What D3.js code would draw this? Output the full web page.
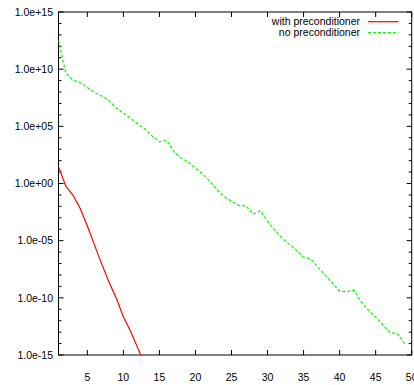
<!DOCTYPE html>
<html>
<head>
<meta charset="utf-8">
<script src="https://cdn.jsdelivr.net/npm/d3@7"></script>
<style>
  body { margin: 0; background: #fff; overflow: hidden; }
  svg { display: block; }
  text { font-family: "Liberation Sans", Arial, sans-serif; font-size: 10.5px; fill: #000; }
</style>
</head>
<body>
<div id="chart"></div>
<script>
// residual norm per iteration
const iterPrec = [1, 2, 3, 4, 5, 6, 7, 8, 9, 10, 11, 12, 13];
const withPrec = [3.0e1, 6.0e-1, 9.8e-2, 6.8e-3, 1.9e-4, 4.1e-6, 8.9e-8, 2.4e-9,
                  9.5e-11, 2.2e-12, 1.2e-13, 4.0e-15, 1.2e-16];

const iterNo = [1, 2, 3, 4, 5, 6, 7, 8, 9, 10, 11, 12, 13, 14, 15, 16, 17, 18, 19, 20,
                21, 22, 23, 24, 25, 26, 27, 28, 29, 30, 31, 32, 33, 34, 35, 36, 37, 38, 39, 40,
                41, 42, 43, 44, 45, 46, 47, 48, 49];
const noPrec = [3.5e12, 4.6e9, 1.1e9, 6.8e8, 2.5e8, 9.1e7, 4.5e7, 1.8e7, 4.0e6, 1.4e6,
                4.8e5, 1.6e5, 5.8e4, 1.4e4, 4.5e3, 6.3e3, 6.0e2, 1.7e2, 7.6e1, 2.2e1,
                6.8e0, 1.6e0, 2.7e-1, 6.9e-2, 2.9e-2, 1.2e-2, 1.1e-2, 2.1e-3, 4.2e-3, 5.1e-4,
                8.5e-5, 1.7e-5, 5.0e-6, 1.5e-6, 3.7e-7, 2.5e-7, 4.9e-8, 9.8e-9, 1.9e-9, 3.9e-10,
                3.4e-10, 4.8e-10, 4.3e-11, 8.5e-12, 2.1e-12, 4.2e-13, 8.7e-14, 7.8e-14, 1.0e-14];

const xTicks = [5, 10, 15, 20, 25, 30, 35, 40, 45, 50];
const yTicks = [1e15, 1e10, 1e5, 1e0, 1e-5, 1e-10, 1e-15];
const yMinor = d3.range(-15, 16).map(e => Math.pow(10, e));
const legendLabels = ["with preconditioner", "no preconditioner"];

const width = 414, height = 385;
const plot = {left: 58.5, top: 12, right: 411.7, bottom: 355};

const svg = d3.select("#chart").append("svg")
    .attr("width", width)
    .attr("height", height);

const x = d3.scaleLinear().domain([1, 50]).range([plot.left, plot.right]);
const y = d3.scaleLog().domain([1e-15, 1e15]).range([plot.bottom, plot.top]);

// clip so lines stay inside the frame
svg.append("clipPath").attr("id", "clip")
  .append("rect")
    .attr("x", plot.left).attr("y", plot.top)
    .attr("width", plot.right - plot.left)
    .attr("height", plot.bottom - plot.top);

const fmt = v => {
    const e = Math.round(Math.log10(v));
    return "1.0e" + (e < 0 ? "-" : "+") + String(Math.abs(e)).padStart(2, "0");
};

// ticks - gnuplot style, inward on all four sides
const tickG = svg.append("g").attr("stroke", "#000").attr("stroke-width", 1);

xTicks.forEach(t => {
    tickG.append("line").attr("x1", x(t)).attr("x2", x(t)).attr("y1", plot.bottom).attr("y2", plot.bottom - 5);
    tickG.append("line").attr("x1", x(t)).attr("x2", x(t)).attr("y1", plot.top).attr("y2", plot.top + 5);
});

yMinor.forEach(t => {
    let major = yTicks.some(v => Math.abs(Math.log10(v) - Math.log10(t)) < 1e-6);
    let len = major ? 5 : 3;
    tickG.append("line").attr("x1", plot.left).attr("x2", plot.left + len).attr("y1", y(t)).attr("y2", y(t));
    tickG.append("line").attr("x1", plot.right).attr("x2", plot.right - len).attr("y1", y(t)).attr("y2", y(t));
});

svg.selectAll(".xlab")
    .data(xTicks)
    .enter().append("text")
    .attr("class", "xlab")
    .attr("x", d => x(d))
    .attr("y", plot.bottom + 26)
    .attr("text-anchor", "middle")
    .text(d => d);

svg.selectAll(".ylab")
    .data(yTicks)
    .enter().append("text")
    .attr("class", "ylab")
    .attr("x", plot.left - 5.5)
    .attr("y", d => y(d) + 3.7)
    .attr("text-anchor", "end")
    .text(fmt);

// frame
svg.append("rect")
    .attr("x", plot.left).attr("y", plot.top)
    .attr("width", plot.right - plot.left)
    .attr("height", plot.bottom - plot.top)
    .attr("fill", "none")
    .attr("stroke", "#000")
    .attr("stroke-width", 1);

const line = d3.line()
    .x(d => x(d[0]))
    .y(d => y(d[1]));

const lines = svg.append("g").attr("clip-path", "url(#clip)");

lines.append("path")
    .datum(iterPrec.map((v, i) => [v, withPrec[i]]))
    .attr("d", line)
    .attr("fill", "none")
    .attr("stroke", "#ff0000")
    .attr("stroke-width", 1.2);

lines.append("path")
    .datum(iterNo.map((v, i) => [v, noPrec[i]]))
    .attr("d", line)
    .attr("fill", "none")
    .attr("stroke", "#00ff00")
    .attr("stroke-width", 1.2)
    .attr("stroke-dasharray", "3,2");

// legend
const legend = svg.append("g");
const legendColors = ["#ff0000", "#00ff00"];
const legendDash = [null, "3,2"];

legendLabels.forEach((lab, i) => {
    let ly = 21.7 + i * 11;
    legend.append("text")
        .attr("x", 360)
        .attr("y", ly + 3.7)
        .attr("text-anchor", "end")
        .text(lab);
    legend.append("line")
        .attr("x1", 368).attr("x2", 398.5)
        .attr("y1", ly).attr("y2", ly)
        .attr("stroke", legendColors[i])
        .attr("stroke-width", 1.2)
        .attr("stroke-dasharray", legendDash[i]);
});
</script>
</body>
</html>
